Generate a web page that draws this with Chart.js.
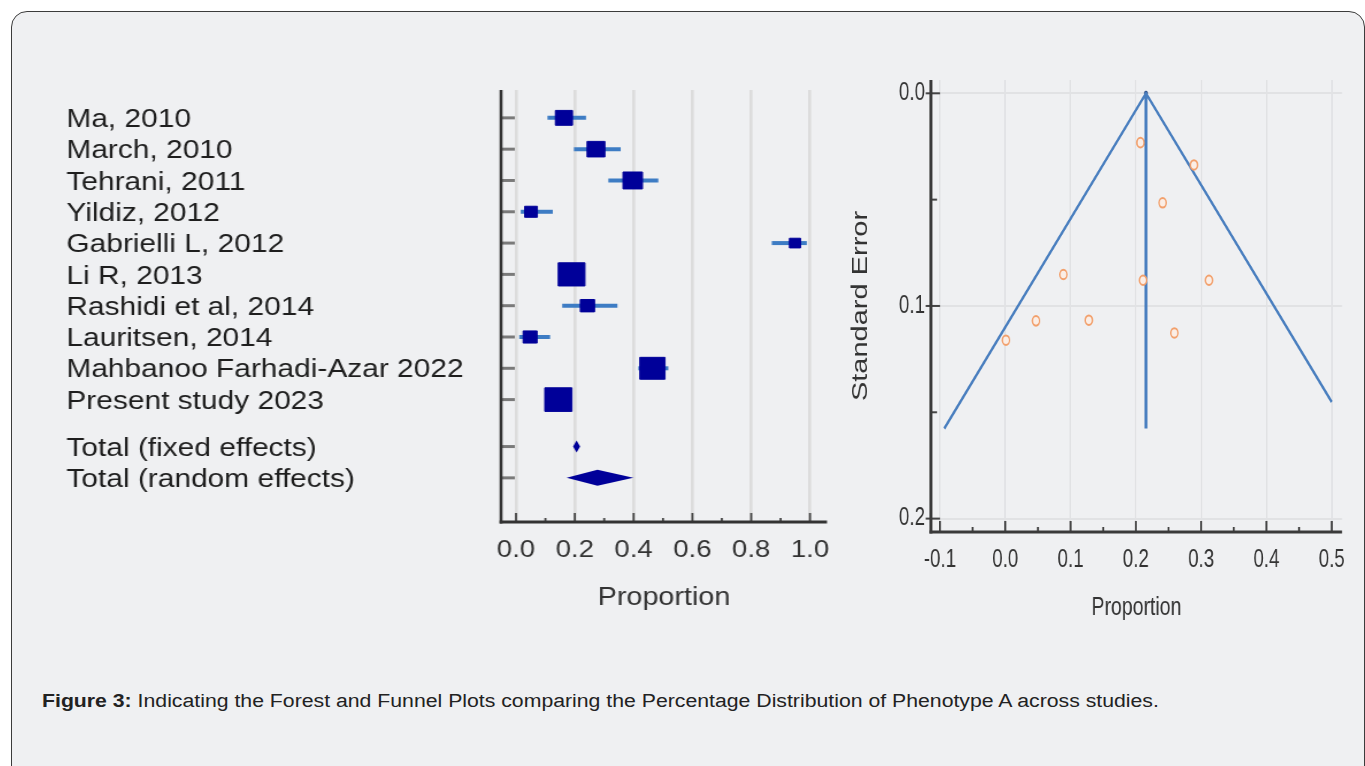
<!DOCTYPE html>
<html>
<head>
<meta charset="utf-8">
<title>Forest and funnel plots</title>
<script src="https://cdn.jsdelivr.net/npm/chart.js@4.4.1/dist/chart.umd.min.js"></script>
<style>
  html, body { margin: 0; padding: 0; background: #ffffff; width: 1365px; height: 766px; overflow: hidden;
               font-family: "Liberation Sans", Arial, sans-serif; }
  #panel { position: absolute; left: 11px; top: 11px; width: 1354px; height: 800px; box-sizing: border-box;
           border: 1px solid #3c3c3c; border-radius: 16px; background: #eff0f2; }
  #forest { position: absolute; left: 56px; top: 70px; transform-origin: 0 0; transform: scaleX(1.15); }
  #funnel { position: absolute; left: 846px; top: 70px; transform-origin: 0 0; transform: scaleX(0.75); }
  #caption { position: absolute; left: 42px; top: 690px; font-size: 18px; line-height: 22px; color: #222;
             white-space: nowrap; transform-origin: 0 0; transform: scaleX(1.18); }
</style>
</head>
<body>
<div id="panel"></div>
<canvas id="forest" width="690" height="560"></canvas>
<canvas id="funnel" width="680" height="570"></canvas>
<div id="caption"><b>Figure 3:</b> Indicating the Forest and Funnel Plots comparing the Percentage Distribution of Phenotype A across studies.</div>

<script>
// ---- Forest plot data ----
const studies = ['Ma, 2010', 'March, 2010', 'Tehrani, 2011', 'Yildiz, 2012', 'Gabrielli L, 2012',
                 'Li R, 2013', 'Rashidi et al, 2014', 'Lauritsen, 2014', 'Mahbanoo Farhadi-Azar 2022',
                 'Present study 2023'];
const proportion = [0.163, 0.272, 0.397, 0.051, 0.949, 0.189, 0.243, 0.048, 0.464, 0.144];
const ciLower    = [0.107, 0.197, 0.314, 0.016, 0.870, 0.160, 0.157, 0.011, 0.416, 0.118];
const ciUpper    = [0.238, 0.356, 0.484, 0.125, 0.989, 0.220, 0.345, 0.116, 0.518, 0.172];
const weights    = [7.8, 8.5, 10.1, 4.3, 3.3, 18.9, 5.4, 5.2, 16.9, 19.6];   // % weight
const pooledLabels   = ['Total (fixed effects)', 'Total (random effects)'];
const pooledEstimate = [0.206, 0.277];
const pooledLower    = [0.194, 0.172];
const pooledUpper    = [0.218, 0.399];
const forestTicks    = [0.0, 0.2, 0.4, 0.6, 0.8, 1.0];

// ---- Funnel plot data ----
const funnelProportion = [0.207, 0.289, 0.241, 0.211, 0.312, 0.128, 0.259, 0.089, 0.047, 0.001];
const funnelSE         = [0.0232, 0.0337, 0.0515, 0.0879, 0.0879, 0.1067, 0.1127, 0.0852, 0.1070, 0.1161];
const funnelPooled = 0.2155;
const funnelSEMax  = 0.1576;
const funnelXTicks = [-0.1, 0.0, 0.1, 0.2, 0.3, 0.4, 0.5];
const funnelYTicks = [0.0, 0.1, 0.2];

Chart.defaults.font.family = '"Liberation Sans", Arial, sans-serif';
Chart.defaults.color = '#333333';

// rows: one per study, a half-row gap, then the pooled totals
const studyRows  = studies.map((_, i) => i);
const pooledRows = pooledLabels.map((_, j) => studies.length + 0.5 + j);
const rowValues  = studyRows.concat(pooledRows);
const rowLabels  = studies.concat(pooledLabels);

const NAVY = '#000099';

// keep the plot area exactly where the layout padding puts it
function noLabelOverhang(s) {
  s.paddingTop = 0; s.paddingBottom = 0; s.paddingLeft = 0; s.paddingRight = 0;
}

const forestDecor = {
  id: 'forestDecor',
  beforeDatasetsDraw(chart) {
    const { ctx, scales: { x, y } } = chart;
    ctx.save();
    ctx.strokeStyle = '#3d7cc4';
    ctx.lineWidth = 4;
    studies.forEach((_, i) => {
      const py = y.getPixelForValue(studyRows[i]);
      ctx.beginPath();
      ctx.moveTo(x.getPixelForValue(ciLower[i]), py);
      ctx.lineTo(x.getPixelForValue(ciUpper[i]), py);
      ctx.stroke();
    });
    ctx.restore();
  },
  afterDatasetsDraw(chart) {
    const { ctx, scales: { x, y } } = chart;
    const halfHeight = [6, 8];
    ctx.save();
    ctx.fillStyle = NAVY;
    pooledEstimate.forEach((est, j) => {
      const py = y.getPixelForValue(pooledRows[j]);
      ctx.beginPath();
      ctx.moveTo(x.getPixelForValue(pooledLower[j]), py);
      ctx.lineTo(x.getPixelForValue(est), py - halfHeight[j]);
      ctx.lineTo(x.getPixelForValue(pooledUpper[j]), py);
      ctx.lineTo(x.getPixelForValue(est), py + halfHeight[j]);
      ctx.closePath();
      ctx.fill();
    });
    ctx.restore();
  },
  afterDraw(chart) {
    const { ctx, chartArea: a, scales: { x, y } } = chart;
    ctx.save();
    // row ticks on the inner side of the vertical axis
    ctx.strokeStyle = '#7a7a7a';
    ctx.lineWidth = 3;
    rowValues.forEach(v => {
      const py = y.getPixelForValue(v);
      ctx.beginPath(); ctx.moveTo(a.left, py); ctx.lineTo(a.left + 12, py); ctx.stroke();
    });
    // major / minor ticks along the proportion axis
    ctx.strokeStyle = '#444';
    ctx.lineWidth = 1.8;
    for (let k = 0; k <= 10; k++) {
      const px = x.getPixelForValue(k / 10);
      const len = k % 2 === 0 ? 9 : 4;
      ctx.beginPath(); ctx.moveTo(px, a.bottom); ctx.lineTo(px, a.bottom - len); ctx.stroke();
    }
    // axis lines
    ctx.strokeStyle = '#333';
    ctx.lineWidth = 2.6;
    ctx.beginPath(); ctx.moveTo(a.left, a.top); ctx.lineTo(a.left, a.bottom + 1.5); ctx.stroke();
    ctx.lineWidth = 3;
    ctx.beginPath(); ctx.moveTo(a.left - 1.3, a.bottom); ctx.lineTo(a.right, a.bottom); ctx.stroke();
    ctx.restore();
  }
};

new Chart(document.getElementById('forest'), {
  type: 'scatter',
  data: {
    datasets: [{
      data: proportion.map((p, i) => ({ x: p, y: studyRows[i] })),
      pointStyle: 'rect',
      pointRadius: weights.map(w => 5.334 * Math.sqrt(w) / Math.SQRT2),
      pointBackgroundColor: NAVY,
      pointBorderColor: NAVY,
      pointBorderWidth: 1
    }]
  },
  options: {
    responsive: false,
    animation: false,
    events: [],
    layout: { padding: { left: 9, top: 20, right: 19.6, bottom: 0 } },
    plugins: { legend: { display: false }, tooltip: { enabled: false } },
    scales: {
      x: {
        type: 'linear',
        min: -0.0509, max: 1.0577,
        afterBuildTicks: s => { s.ticks = forestTicks.map(v => ({ value: v })); },
        afterFit: s => { s.height = 108; noLabelOverhang(s); },
        ticks: { callback: v => v.toFixed(1), font: { size: 24 }, color: '#333', padding: 14,
                 autoSkip: false, maxRotation: 0 },
        grid: { color: '#dcdcdc', lineWidth: 2.6, drawTicks: false },
        border: { display: false },
        title: { display: true, text: 'Proportion', font: { size: 25 }, color: '#333',
                 padding: { top: 0, bottom: 17 } }
      },
      y: {
        type: 'linear',
        reverse: true,
        min: -0.89, max: 12.91,
        afterBuildTicks: s => { s.ticks = rowValues.map(v => ({ value: v })); },
        afterFit: s => { s.width = 378; noLabelOverhang(s); },
        ticks: { callback: (v, i) => rowLabels[i], crossAlign: 'far', font: { size: 26 },
                 color: '#1e1e1e', padding: 0, labelOffset: 2, autoSkip: false },
        grid: { display: false, drawTicks: false },
        border: { display: false }
      }
    }
  },
  plugins: [forestDecor]
});

// ---- Funnel plot ----
const zCrit = 1.96;
const xLimit = funnelXTicks[funnelXTicks.length - 1];
const apex = { x: funnelPooled, y: 0 };
const leftEnd = { x: funnelPooled - zCrit * funnelSEMax, y: funnelSEMax };
const seRight = Math.min(funnelSEMax, (xLimit - funnelPooled) / zCrit);
const rightEnd = { x: funnelPooled + zCrit * seRight, y: seRight };

const funnelDecor = {
  id: 'funnelDecor',
  afterDraw(chart) {
    const { ctx, chartArea: a, scales: { x, y } } = chart;
    ctx.save();
    ctx.strokeStyle = '#444';
    // ticks on the proportion axis (every 0.05, labelled every 0.1)
    ctx.lineWidth = 2.6;
    for (let k = -2; k <= 10; k++) {
      const px = x.getPixelForValue(k * 0.05);
      const len = k % 2 === 0 ? 11 : 5;
      ctx.beginPath(); ctx.moveTo(px, a.bottom); ctx.lineTo(px, a.bottom - len); ctx.stroke();
    }
    // ticks on the standard error axis
    ctx.lineWidth = 2;
    for (let k = 0; k <= 4; k++) {
      const py = y.getPixelForValue(k * 0.05);
      ctx.beginPath();
      if (k % 2 === 0) { ctx.moveTo(a.left - 7, py); ctx.lineTo(a.left + 12, py); }
      else { ctx.moveTo(a.left, py); ctx.lineTo(a.left + 8, py); }
      ctx.stroke();
    }
    // axis lines
    ctx.strokeStyle = '#3a3a3a';
    ctx.lineWidth = 4;
    ctx.beginPath(); ctx.moveTo(a.left, a.top); ctx.lineTo(a.left, a.bottom + 1.5); ctx.stroke();
    ctx.lineWidth = 3;
    ctx.beginPath(); ctx.moveTo(a.left - 2, a.bottom); ctx.lineTo(a.right, a.bottom); ctx.stroke();
    ctx.restore();
  }
};

new Chart(document.getElementById('funnel'), {
  type: 'scatter',
  data: {
    datasets: [
      {
        data: funnelProportion.map((p, i) => ({ x: p, y: funnelSE[i] })),
        pointStyle: 'circle',
        pointRadius: 4.8,
        pointBorderWidth: 2,
        pointBorderColor: '#f2a06c',
        pointBackgroundColor: '#fbeee6'
      },
      {
        data: [leftEnd, apex, rightEnd],
        showLine: true,
        borderColor: '#4a7fbf',
        borderWidth: 3,
        pointRadius: 0,
        tension: 0
      },
      {
        data: [apex, { x: funnelPooled, y: funnelSEMax }],
        showLine: true,
        borderColor: '#4a7fbf',
        borderWidth: 4,
        pointRadius: [2.5, 0],
        pointBackgroundColor: '#1d3f7a',
        pointBorderWidth: 0
      }
    ]
  },
  options: {
    responsive: false,
    animation: false,
    events: [],
    layout: { padding: { left: 0, top: 10, right: 18.7, bottom: 0 } },
    plugins: { legend: { display: false }, tooltip: { enabled: false } },
    scales: {
      x: {
        type: 'linear',
        min: -0.1138, max: 0.5157,
        afterBuildTicks: s => { s.ticks = funnelXTicks.map(v => ({ value: v })); },
        afterFit: s => { s.height = 108; noLabelOverhang(s); },
        ticks: { callback: v => v.toFixed(1), font: { size: 25 }, color: '#333', padding: 13,
                 autoSkip: false, maxRotation: 0 },
        grid: { color: '#e1e2e4', lineWidth: 2, drawTicks: false },
        border: { display: false },
        title: { display: true, text: 'Proportion', font: { size: 26 }, color: '#333',
                 padding: { top: 0, bottom: 17 } }
      },
      y: {
        type: 'linear',
        reverse: true,
        min: -0.00626, max: 0.2063,
        afterBuildTicks: s => { s.ticks = funnelYTicks.map(v => ({ value: v })); },
        afterFit: s => { s.width = 113.3; noLabelOverhang(s); },
        ticks: { callback: v => v.toFixed(1), font: { size: 25 }, color: '#333', padding: 8,
                 autoSkip: false },
        grid: { color: '#e1e2e4', lineWidth: 2, drawTicks: false },
        border: { display: false },
        title: { display: true, text: 'Standard Error', font: { size: 29 }, color: '#333',
                 padding: { top: 3, bottom: 0 } }
      }
    }
  },
  plugins: [funnelDecor]
});
</script>
</body>
</html>
